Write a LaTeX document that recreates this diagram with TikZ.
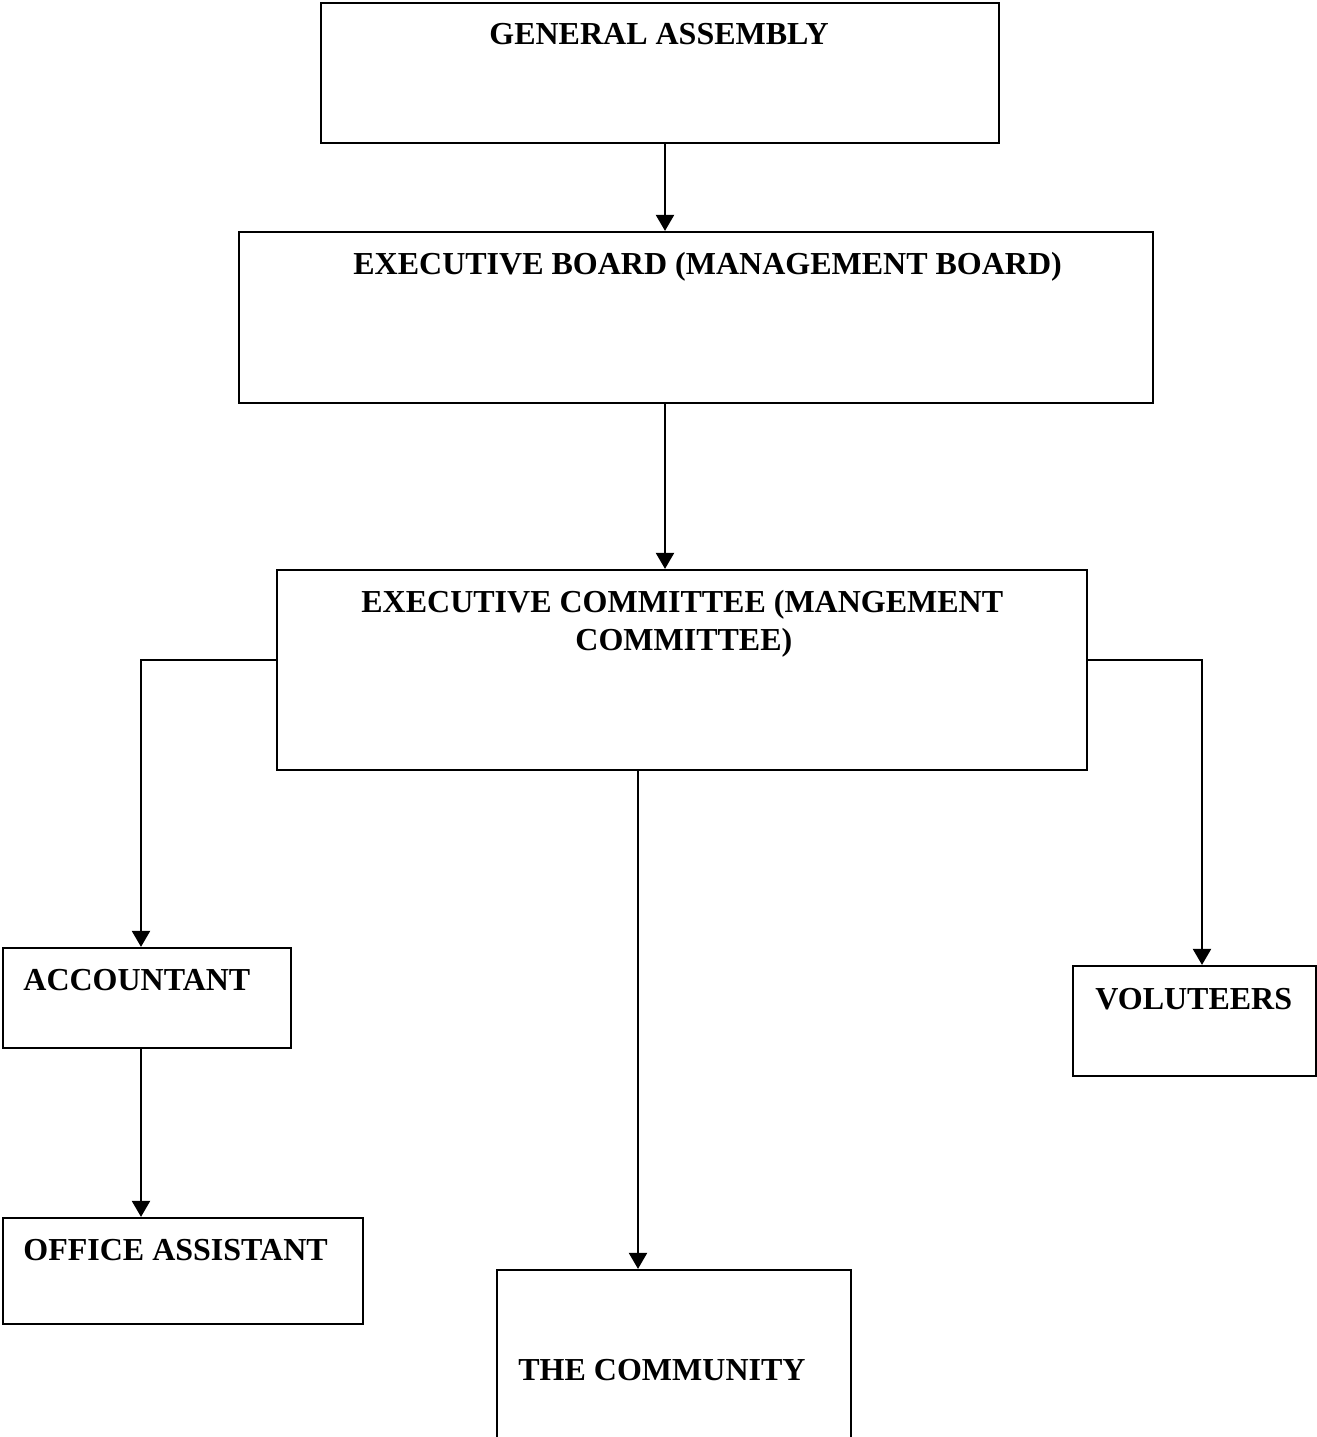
\documentclass[tikz,border=0pt]{standalone}
\usepackage{fontspec}
\setmainfont{Liberation Serif}
\usetikzlibrary{arrows.meta}
\begin{document}
\begin{tikzpicture}[x=0.5pt,y=-0.5pt,
  box/.style={draw,line width=1.1pt,rectangle,inner sep=0pt},
  lbl/.style={anchor=base west,inner sep=0pt,font=\fontsize{16}{19}\selectfont\bfseries},
  arr/.style={line width=1.1pt,-{Triangle[width=9pt,length=8pt]}}]
\useasboundingbox (0,0) rectangle (1317,1437);
% boxes
\node[box,minimum width=339pt,minimum height=70pt] (ga) at (660,73) {};
\node[box,minimum width=457pt,minimum height=85.5pt] (eb) at (696,317.5) {};
\node[box,minimum width=405pt,minimum height=100pt] (ec) at (682,670) {};
\node[box,minimum width=144pt,minimum height=50pt] (acc) at (147,998) {};
\node[box,minimum width=121.5pt,minimum height=55pt] (vol) at (1194.5,1021) {};
\node[box,minimum width=180pt,minimum height=53pt] (oa) at (183,1271) {};
\node[box,minimum width=177pt,minimum height=100pt] (com) at (674,1370) {};
% labels
\node[lbl] (tga) at (489,44) {GENERAL ASSEMBLY};
\node[lbl] (teb) at (353,274) {EXECUTIVE BOARD (MANAGEMENT BOARD)};
\node[lbl] (tec1) at (361,612) {EXECUTIVE COMMITTEE (MANGEMENT};
\node[lbl] (tec2) at (575,650) {COMMITTEE)};
\node[lbl] (tacc) at (23,990) {ACCOUNTANT};
\node[lbl] (tvol) at (1095,1009) {VOLUTEERS};
\node[lbl] (toa) at (23,1260) {OFFICE ASSISTANT};
\node[lbl] (tcom) at (518,1380) {THE COMMUNITY};
% connector guides
\coordinate (c1) at (665,0);
\coordinate (c2) at (638,0);
\coordinate (c3) at (141,660);
\coordinate (c4) at (1202,660);
% connectors
\draw[arr] (ga.south -| c1) -- (eb.north -| c1);
\draw[arr] (eb.south -| c1) -- (ec.north -| c1);
\draw[arr] (ec.west |- c3) -- (c3) -- (acc.north -| c3);
\draw[arr] (ec.east |- c4) -- (c4) -- (vol.north -| c4);
\draw[arr] (ec.south -| c2) -- (com.north -| c2);
\draw[arr] (acc.south -| c3) -- (oa.north -| c3);
\end{tikzpicture}
\end{document}
